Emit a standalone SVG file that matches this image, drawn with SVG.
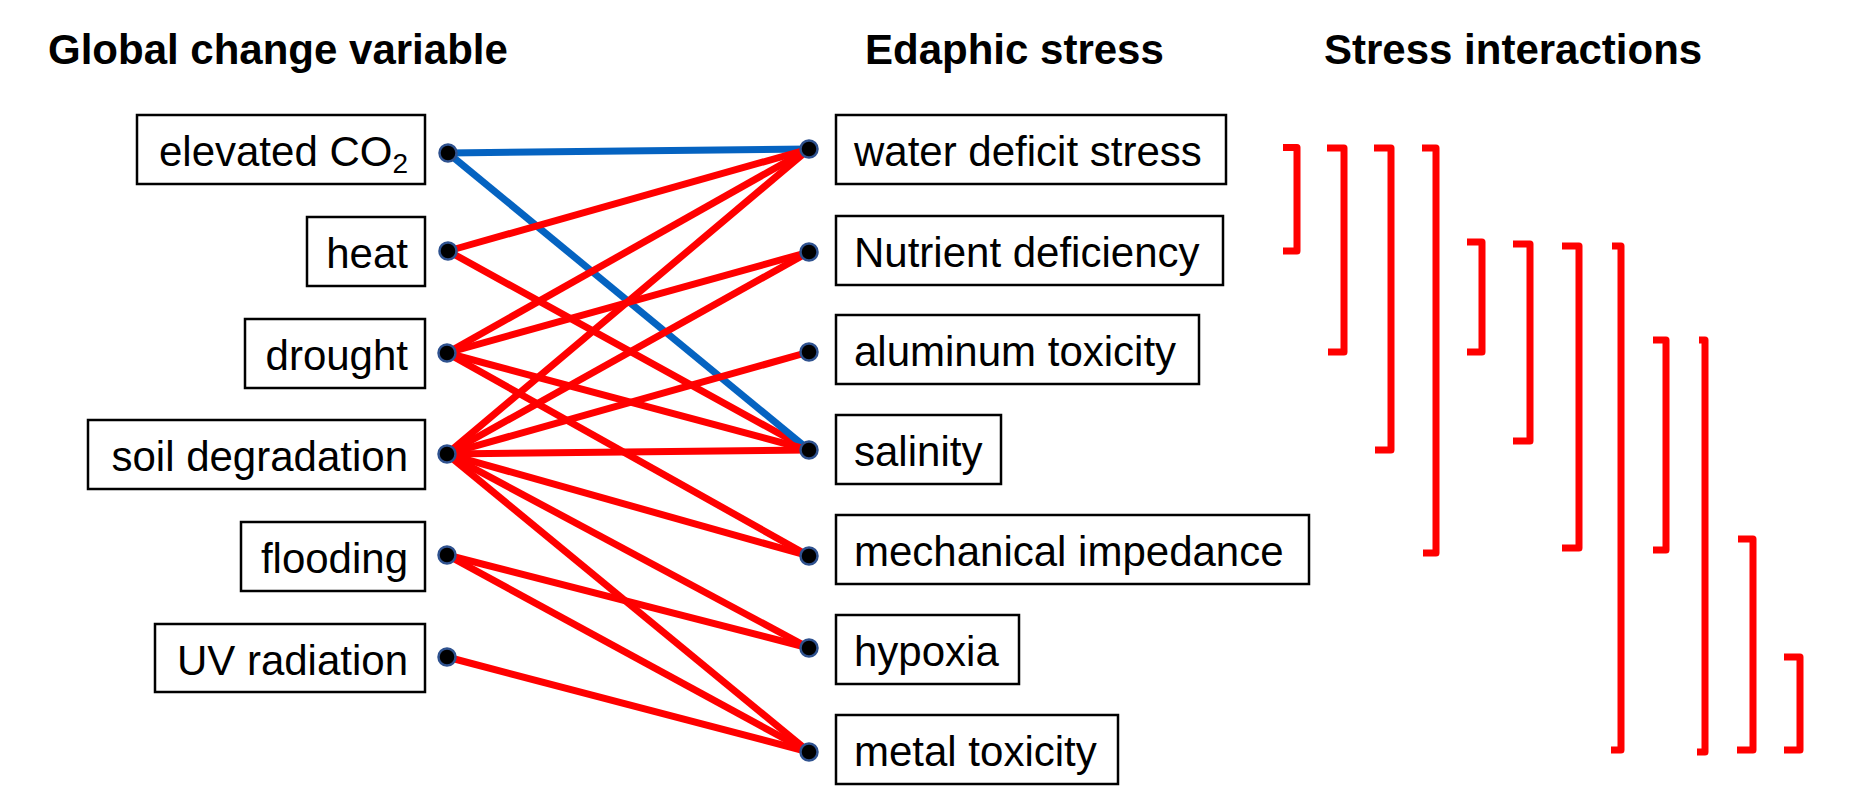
<svg xmlns="http://www.w3.org/2000/svg" width="1854" height="806" viewBox="0 0 1854 806">
<style>
.title{font-family:"Liberation Sans",Arial,sans-serif;font-weight:bold;font-size:42px;fill:#000}
.lbl{font-family:"Liberation Sans",Arial,sans-serif;font-size:42px;fill:#000}
.lbl.l{text-anchor:end}
.box{fill:#fff;stroke:#000;stroke-width:2.5}
.dot{fill:#000;stroke:#2F528F;stroke-width:2.5}
.red{stroke:#FF0000;stroke-width:7;fill:none}
.blue{stroke:#0563C1;stroke-width:7;fill:none}
.br{stroke:#FF0000;stroke-width:7;fill:none;stroke-linejoin:round}
</style>
<rect width="1854" height="806" fill="#fff"/>
<g id="titles">
<text class="title" x="48" y="64">Global change variable</text>
<text class="title" x="865" y="64">Edaphic stress</text>
<text class="title" x="1324" y="64">Stress interactions</text>
</g>
<g id="connectors">
<line class="red" x1="448" y1="251" x2="809" y2="450"/>
<line class="blue" x1="448" y1="153" x2="809" y2="149"/>
<line class="blue" x1="448" y1="153" x2="809" y2="450"/>
<line class="red" x1="448" y1="251" x2="809" y2="149"/>
<line class="red" x1="447" y1="353" x2="809" y2="149"/>
<line class="red" x1="447" y1="353" x2="809" y2="252"/>
<line class="red" x1="447" y1="353" x2="809" y2="450"/>
<line class="red" x1="447" y1="353" x2="809" y2="556"/>
<line class="red" x1="447" y1="454" x2="809" y2="149"/>
<line class="red" x1="447" y1="454" x2="809" y2="252"/>
<line class="red" x1="447" y1="454" x2="809" y2="352"/>
<line class="red" x1="447" y1="454" x2="809" y2="450"/>
<line class="red" x1="447" y1="454" x2="809" y2="556"/>
<line class="red" x1="447" y1="454" x2="809" y2="648"/>
<line class="red" x1="447" y1="454" x2="809" y2="752"/>
<line class="red" x1="447" y1="555" x2="809" y2="648"/>
<line class="red" x1="447" y1="555" x2="809" y2="752"/>
<line class="red" x1="447" y1="657" x2="809" y2="752"/>
</g>
<g id="n-co2">
<rect class="box" x="137" y="115" width="288" height="69"/>
<text class="lbl l" x="408" y="166">elevated CO<tspan font-size="28" dy="7">2</tspan></text>
<circle class="dot" cx="448" cy="153" r="8.5"/>
</g>
<g id="n-heat">
<rect class="box" x="307" y="217" width="118" height="69"/>
<text class="lbl l" x="408" y="268">heat</text>
<circle class="dot" cx="448" cy="251" r="8.5"/>
</g>
<g id="n-drought">
<rect class="box" x="245" y="319" width="180" height="69"/>
<text class="lbl l" x="408" y="370">drought</text>
<circle class="dot" cx="447" cy="353" r="8.5"/>
</g>
<g id="n-soil">
<rect class="box" x="88" y="420" width="337" height="69"/>
<text class="lbl l" x="408" y="471">soil degradation</text>
<circle class="dot" cx="447" cy="454" r="8.5"/>
</g>
<g id="n-flooding">
<rect class="box" x="241" y="522" width="184" height="69"/>
<text class="lbl l" x="408" y="573">flooding</text>
<circle class="dot" cx="447" cy="555" r="8.5"/>
</g>
<g id="n-uv">
<rect class="box" x="155" y="624" width="270" height="68"/>
<text class="lbl l" x="408" y="675">UV radiation</text>
<circle class="dot" cx="447" cy="657" r="8.5"/>
</g>
<g id="n-water">
<rect class="box" x="836" y="115" width="390" height="69"/>
<text class="lbl" x="854" y="166">water deficit stress</text>
<circle class="dot" cx="809" cy="149" r="8.5"/>
</g>
<g id="n-nutrient">
<rect class="box" x="836" y="216" width="387" height="69"/>
<text class="lbl" x="854" y="267">Nutrient deficiency</text>
<circle class="dot" cx="809" cy="252" r="8.5"/>
</g>
<g id="n-aluminum">
<rect class="box" x="836" y="315" width="363" height="69"/>
<text class="lbl" x="854" y="366">aluminum toxicity</text>
<circle class="dot" cx="809" cy="352" r="8.5"/>
</g>
<g id="n-salinity">
<rect class="box" x="836" y="415" width="165" height="69"/>
<text class="lbl" x="854" y="466">salinity</text>
<circle class="dot" cx="809" cy="450" r="8.5"/>
</g>
<g id="n-mechanical">
<rect class="box" x="836" y="515" width="473" height="69"/>
<text class="lbl" x="854" y="566">mechanical impedance</text>
<circle class="dot" cx="809" cy="556" r="8.5"/>
</g>
<g id="n-hypoxia">
<rect class="box" x="836" y="615" width="183" height="69"/>
<text class="lbl" x="854" y="666">hypoxia</text>
<circle class="dot" cx="809" cy="648" r="8.5"/>
</g>
<g id="n-metal">
<rect class="box" x="836" y="715" width="282" height="69"/>
<text class="lbl" x="854" y="766">metal toxicity</text>
<circle class="dot" cx="809" cy="752" r="8.5"/>
</g>
<g id="brackets">
<path class="br" d="M1283,147.5 H1297 V251 H1283"/>
<path class="br" d="M1327,148 H1344 V352 H1328"/>
<path class="br" d="M1374,148 H1391 V450 H1375"/>
<path class="br" d="M1422,148 H1436 V553 H1423"/>
<path class="br" d="M1467,242 H1482 V352 H1467"/>
<path class="br" d="M1513,244 H1530 V441 H1513"/>
<path class="br" d="M1562,246 H1579 V548 H1562"/>
<path class="br" d="M1612,246 H1621 V750 H1611"/>
<path class="br" d="M1653,340 H1666 V550 H1653"/>
<path class="br" d="M1699,340 H1705 V752 H1697"/>
<path class="br" d="M1738,539 H1753 V750 H1737"/>
<path class="br" d="M1784,657 H1800 V750 H1784"/>
</g>
</svg>
